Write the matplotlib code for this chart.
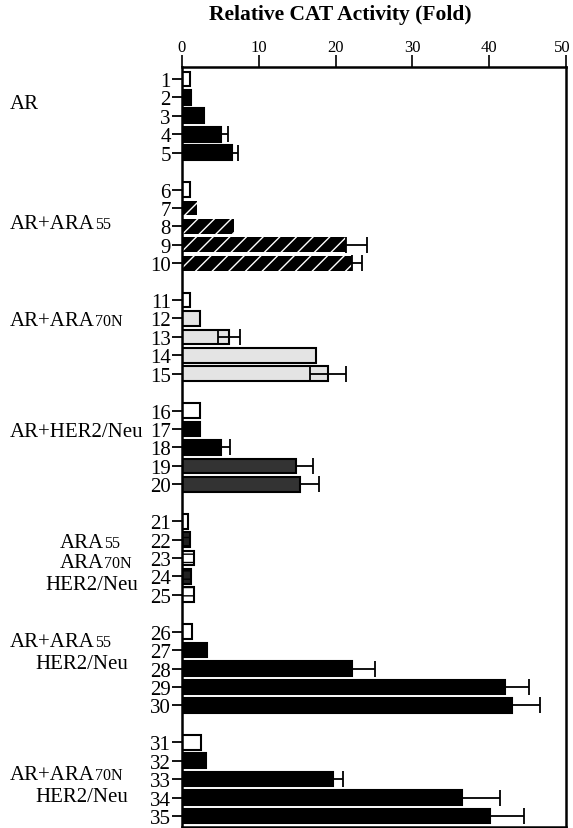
import matplotlib
matplotlib.use("Agg")
import matplotlib.pyplot as plt
import matplotlib.transforms as mtransforms
import numpy as np

plt.rcParams['font.family'] = ['Liberation Serif', 'DejaVu Serif']

# lane numbers and fold activity
lanes = [str(i) for i in range(1, 36)]
values = [1.0, 1.2, 2.8, 5.1, 6.5,
          1.1, 1.9, 6.8, 21.4, 22.2,
          1.1, 2.3, 6.1, 17.4, 19.0,
          2.3, 2.3, 5.1, 14.8, 15.3,
          0.8, 1.0, 1.5, 1.2, 1.5,
          1.3, 3.2, 22.2, 42.1, 43.0,
          2.5, 3.1, 19.7, 36.4, 40.1]
errors = [0, 0, 0, 0.9, 0.8,
          0, 0, 0, 2.7, 1.2,
          0, 0, 1.4, 0, 2.3,
          0, 0, 1.1, 2.2, 2.6,
          0, 0, 0, 0, 0,
          0, 0, 2.9, 3.1, 3.6,
          0, 0, 1.3, 5.0, 4.4]

# group labels: each line is a list of (text, small)
group_labels = [
    [[("AR", False)]],
    [[("AR+ARA", False), ("55", True)]],
    [[("AR+ARA", False), ("70N", True)]],
    [[("AR+HER2/Neu", False)]],
    [[("ARA", False), ("55", True)], [("ARA", False), ("70N", True)], [("HER2/Neu", False)]],
    [[("AR+ARA", False), ("55", True)], [("HER2/Neu", False)]],
    [[("AR+ARA", False), ("70N", True)], [("HER2/Neu", False)]],
]

# bar styles per lane
styles = []
for g in range(7):
    for i in range(5):
        if i == 0:
            styles.append(dict(color='white', hatch=None))
        elif g == 1:
            styles.append(dict(color='black', hatch='/'))
        elif g == 2:
            styles.append(dict(color='#e4e4e4', hatch=None))
        elif g == 3 and i >= 3:
            styles.append(dict(color='#333333', hatch=None))
        elif g == 4:
            styles.append(dict(color='white' if i % 2 == 0 else '#222222', hatch='--'))
        else:
            styles.append(dict(color='black', hatch=None))

ypos = np.array([g * 6 + i for g in range(7) for i in range(5)])

W, H = 573, 829
fig = plt.figure(figsize=(W / 100, H / 100), dpi=100)
ax = fig.add_axes([182 / W, 1 / H, (566 - 182) / W, (828 - 68) / H])

for y, v, st in zip(ypos, values, styles):
    if st['hatch'] == '/':
        ax.barh(y, v, height=0.8, color='black', edgecolor='white', hatch='//', linewidth=0)
    elif st['hatch'] == '--':
        ax.barh(y, v, height=0.8, color=st['color'], edgecolor='black', hatch='--', linewidth=1.5)
    else:
        ax.barh(y, v, height=0.8, color=st['color'], edgecolor='black', linewidth=1.5)

# inner half of the error bar only shows on the light stippled bars
err = np.array(errors)
light = np.array([s['color'] == '#e4e4e4' for s in styles])
lower = np.where(light, err, 0)
has = err > 0
ax.errorbar(np.array(values)[has], ypos[has], xerr=[lower[has], err[has]], fmt='none',
            ecolor='black', elinewidth=1.3, capsize=6, capthick=1.3)

ax.set_xlim(0, 50)
ax.set_ylim(40.6, -0.65)
ax.xaxis.tick_top()
ax.set_xticks(np.arange(0, 51, 10))
ax.tick_params(axis='x', direction='out', length=9, width=1.2, pad=0, labelsize=12)
last = ax.get_xticklabels()[-1]
last.set_transform(last.get_transform() + mtransforms.ScaledTranslation(-4 / 100, 0, fig.dpi_scale_trans))
ax.set_yticks(ypos)
ax.set_yticklabels(lanes)
ax.tick_params(axis='y', direction='out', length=7, width=1.3, pad=1, labelsize=15)
for s in ax.spines.values():
    s.set_linewidth(1.8)

fig.text(340 / W, 1 - 15 / H, "Relative CAT Activity (Fold)", ha='center', va='center',
         fontsize=15.5, fontweight='bold')

# left-hand group labels, with the small-size suffixes
blend = mtransforms.blended_transform_factory(fig.transFigure, ax.transData)
renderer = fig.canvas.get_renderer()
label_pos = [
    [(10, 1.2)],
    [(10, 7.7)],
    [(10, 13.0)],
    [(10, 19.0)],
    [(60, 25.0), (60, 26.1), (45, 27.3)],
    [(10, 30.4), (35, 31.6)],
    [(10, 37.6), (35, 38.8)],
]
for lines, poss in zip(group_labels, label_pos):
    for pieces, (x0, yrow) in zip(lines, poss):
        x = x0
        for txt, small in pieces:
            t = fig.text(x / W, yrow + 0.38, txt, transform=blend, ha='left', va='baseline',
                         fontsize=11.5 if small else 15)
            x += t.get_window_extent(renderer).width

fig.savefig("out.png", dpi=100)
